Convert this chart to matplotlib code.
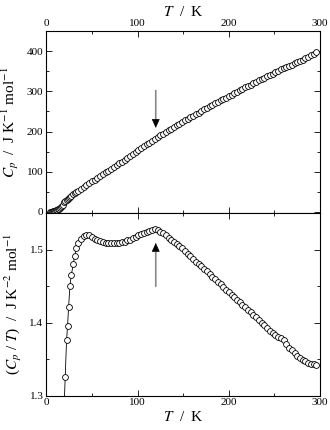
import matplotlib
matplotlib.use('Agg')
import matplotlib.pyplot as plt
import numpy as np

plt.rcParams['font.family'] = ['Liberation Serif', 'DejaVu Serif']
plt.rcParams['mathtext.fontset'] = 'stix'

# low temperature heat capacity (top panel only)
T_low = [4, 5, 6, 7, 8, 9, 10, 11, 12, 13, 14, 15, 16, 17, 18]
Cp_low = [0.2, 0.4, 0.7, 1.1, 1.6, 2.3, 3.1, 4.1, 5.3, 6.7, 8.3, 10.1, 12.2, 14.6, 17.5]

# temperatures and Cp/T
T = [19.5, 20.8, 22.3, 23.4, 24.5, 26.0, 27.4, 29.6, 31.1, 33.0,
     35, 38, 41, 44, 47, 50, 53, 56, 59, 62, 65, 68, 71, 74, 77, 80,
     83, 86, 89, 92, 95, 98, 101, 104, 107, 110, 113, 116, 119, 122,
     125, 128, 131, 134, 137, 140, 143, 146, 149, 152, 155, 158, 161,
     164, 167, 170, 173, 176, 179, 182, 185, 188, 191, 194, 197, 200,
     203, 206, 209, 212, 215, 218, 221, 224, 227, 230, 233, 236, 239,
     242, 245, 248, 251, 254, 257, 260, 263, 266, 269, 272, 275, 278,
     281, 284, 287, 290, 293, 296]
CpT = [1.280, 1.325, 1.376, 1.396, 1.421, 1.450, 1.465, 1.480, 1.491, 1.502,
       1.509, 1.515, 1.519, 1.520, 1.520, 1.518, 1.515, 1.513, 1.512, 1.511,
       1.510, 1.510, 1.510, 1.510, 1.510, 1.510, 1.511, 1.511, 1.513, 1.514,
       1.516, 1.518, 1.520, 1.522, 1.523, 1.525, 1.526, 1.527, 1.528, 1.527,
       1.525, 1.523, 1.520, 1.517, 1.514, 1.511, 1.508, 1.505, 1.502, 1.498,
       1.494, 1.491, 1.488, 1.484, 1.481, 1.478, 1.474, 1.471, 1.467, 1.463,
       1.460, 1.456, 1.453, 1.449, 1.445, 1.442, 1.438, 1.435, 1.431, 1.428,
       1.424, 1.421, 1.418, 1.415, 1.411, 1.408, 1.404, 1.400, 1.397, 1.393,
       1.389, 1.386, 1.383, 1.381, 1.379, 1.376, 1.371, 1.366, 1.362, 1.358,
       1.355, 1.352, 1.349, 1.347, 1.345, 1.344, 1.343, 1.342]

T_arrow = 120

T = np.array(T)
CpT = np.array(CpT)
T_all = np.concatenate([T_low, T])
Cp_all = np.concatenate([Cp_low, T * CpT])

fig = plt.figure(figsize=(3.3, 4.3), dpi=100)
ax1 = fig.add_axes([0.140, 0.5053, 0.830, 0.4225])
ax2 = fig.add_axes([0.140, 0.0798, 0.830, 0.4255])

mk = dict(marker='o', ms=4.2, mfc='white', mec='black', mew=0.6,
          color='black', lw=0.6)

ax1.plot(T_all, Cp_all, **mk)
ax2.plot(T, CpT, **mk)

for ax in (ax1, ax2):
    ax.set_xlim(0, 300)
    ax.set_xticks([0, 100, 200, 300])
    ax.set_xticks([50, 150, 250], minor=True)
    ax.tick_params(which='both', direction='in', top=True, right=True,
                   labelsize=8, width=0.6)
    ax.tick_params(which='major', length=4)
    ax.tick_params(which='minor', length=2.5)
    for s in ax.spines.values():
        s.set_linewidth(0.8)

ax1.set_ylim(-2, 450)
ax1.set_yticks([0, 100, 200, 300, 400])
ax1.set_yticks([50, 150, 250, 350], minor=True)
ax1.tick_params(labelbottom=False, labeltop=True, pad=2)
ax1.xaxis.set_label_position('top')
ax1.set_xlabel('$T$  /  K', fontsize=11, labelpad=2)
ax1.set_ylabel('$C_p$  /  J K$^{-1}$ mol$^{-1}$', fontsize=11, labelpad=4)

ax2.set_ylim(1.3, 1.551)
ax2.set_yticks([1.3, 1.4, 1.5])
ax2.set_yticks([1.35, 1.45], minor=True)
ax2.set_yticklabels(['1.3', '1.4', '1.5'])
ax2.tick_params(pad=2)
ax2.set_xlabel('$T$  /  K', fontsize=11, labelpad=2)
ax2.set_ylabel('($C_p$ / $T$)  /  J K$^{-2}$ mol$^{-1}$', fontsize=11, labelpad=4)

# arrows marking the anomaly: gray shaft, black head
shaft = dict(arrowstyle='-', color='#888888', lw=1.2, shrinkA=0, shrinkB=0)
head = dict(arrowstyle='-|>,head_length=0.55,head_width=0.25', color='black',
            lw=0.5, mutation_scale=10, shrinkA=0, shrinkB=0)
ax1.annotate('', xy=(T_arrow, 230), xytext=(T_arrow, 302), arrowprops=shaft)
ax1.annotate('', xy=(T_arrow, 209), xytext=(T_arrow, 230), arrowprops=head)
ax2.annotate('', xy=(T_arrow, 1.5014), xytext=(T_arrow, 1.450), arrowprops=shaft)
ax2.annotate('', xy=(T_arrow, 1.5096), xytext=(T_arrow, 1.5014), arrowprops=head)

fig.savefig('out.png', dpi=100)
